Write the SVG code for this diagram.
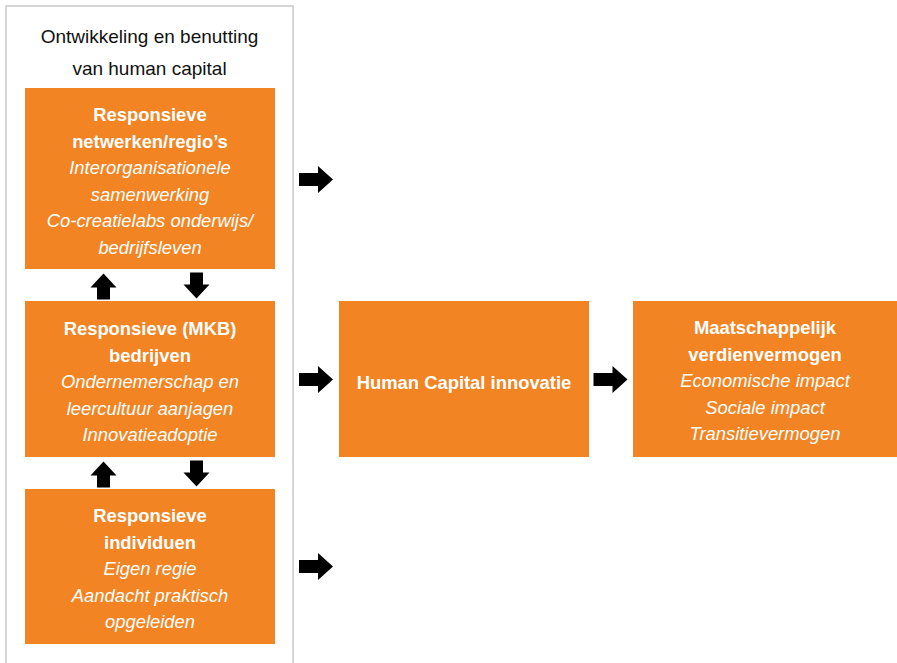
<svg xmlns="http://www.w3.org/2000/svg" xmlns:xlink="http://www.w3.org/1999/xlink" width="897" height="663" viewBox="0 0 897 663">
<style>
.frame{fill:none;stroke:#c9c9c9;stroke-width:1.5}
.box{fill:#F28423}
.t{font-family:"Liberation Sans",Arial,Helvetica,sans-serif;font-size:18.4px;fill:#fff;text-anchor:middle}
.b{font-weight:bold}
.i{font-style:italic}
.title{font-family:"Liberation Sans",Arial,Helvetica,sans-serif;font-size:19px;fill:#111;text-anchor:middle}
.arr{fill:#000}
</style>
<defs>
<path id="arrowR" d="M0,-6.5 H19 V-13.5 L34,0 L19,13.5 V6.5 H0 Z"/>
<path id="arrowD" d="M-6.5,0 H6.5 V12 H13 L0,26 L-13,12 H-6.5 Z"/>
</defs>
<rect width="897" height="663" fill="#fff"/>
<g id="frame">
<rect class="frame" x="6" y="6" width="287" height="680"/>
<text class="title" x="149.5" y="43">Ontwikkeling en benutting</text>
<text class="title" x="149.5" y="75">van human capital</text>
</g>
<g id="node-netwerken">
<rect class="box" x="25" y="88" width="250" height="181"/>
<text class="t b" x="150" y="121">Responsieve</text>
<text class="t b" x="150" y="147.6">netwerken/regio’s</text>
<text class="t i" x="150" y="174.2">Interorganisationele</text>
<text class="t i" x="150" y="200.8">samenwerking</text>
<text class="t i" x="150" y="227.4">Co-creatielabs onderwijs/</text>
<text class="t i" x="150" y="254">bedrijfsleven</text>
</g>
<g id="node-bedrijven">
<rect class="box" x="25" y="301" width="250" height="156"/>
<text class="t b" x="150" y="335">Responsieve (MKB)</text>
<text class="t b" x="150" y="361.6">bedrijven</text>
<text class="t i" x="150" y="388.2">Ondernemerschap en</text>
<text class="t i" x="150" y="414.8">leercultuur aanjagen</text>
<text class="t i" x="150" y="441.4">Innovatieadoptie</text>
</g>
<g id="node-individuen">
<rect class="box" x="25" y="489" width="250" height="155"/>
<text class="t b" x="150" y="522">Responsieve</text>
<text class="t b" x="150" y="548.6">individuen</text>
<text class="t i" x="150" y="575.2">Eigen regie</text>
<text class="t i" x="150" y="601.8">Aandacht praktisch</text>
<text class="t i" x="150" y="628.4">opgeleiden</text>
</g>
<g id="node-hci">
<rect class="box" x="339" y="301" width="250" height="156"/>
<text class="t b" x="464" y="389">Human Capital innovatie</text>
</g>
<g id="node-maatschappelijk">
<rect class="box" x="633" y="301" width="264" height="156"/>
<text class="t b" x="765" y="334">Maatschappelijk</text>
<text class="t b" x="765" y="360.6">verdienvermogen</text>
<text class="t i" x="765" y="387.2">Economische impact</text>
<text class="t i" x="765" y="413.8">Sociale impact</text>
<text class="t i" x="765" y="440.4">Transitievermogen</text>
</g>
<g id="connectors" class="arr">
<use xlink:href="#arrowR" x="299" y="179.5"/>
<use xlink:href="#arrowR" x="299" y="379.5"/>
<use xlink:href="#arrowR" x="299" y="566.5"/>
<use xlink:href="#arrowR" x="593.5" y="379.5"/>
<use xlink:href="#arrowD" transform="translate(103.5,299.5) rotate(180)"/>
<use xlink:href="#arrowD" x="196.5" y="272.5"/>
<use xlink:href="#arrowD" transform="translate(103.5,487.5) rotate(180)"/>
<use xlink:href="#arrowD" x="196.5" y="460.5"/>
</g>
</svg>
